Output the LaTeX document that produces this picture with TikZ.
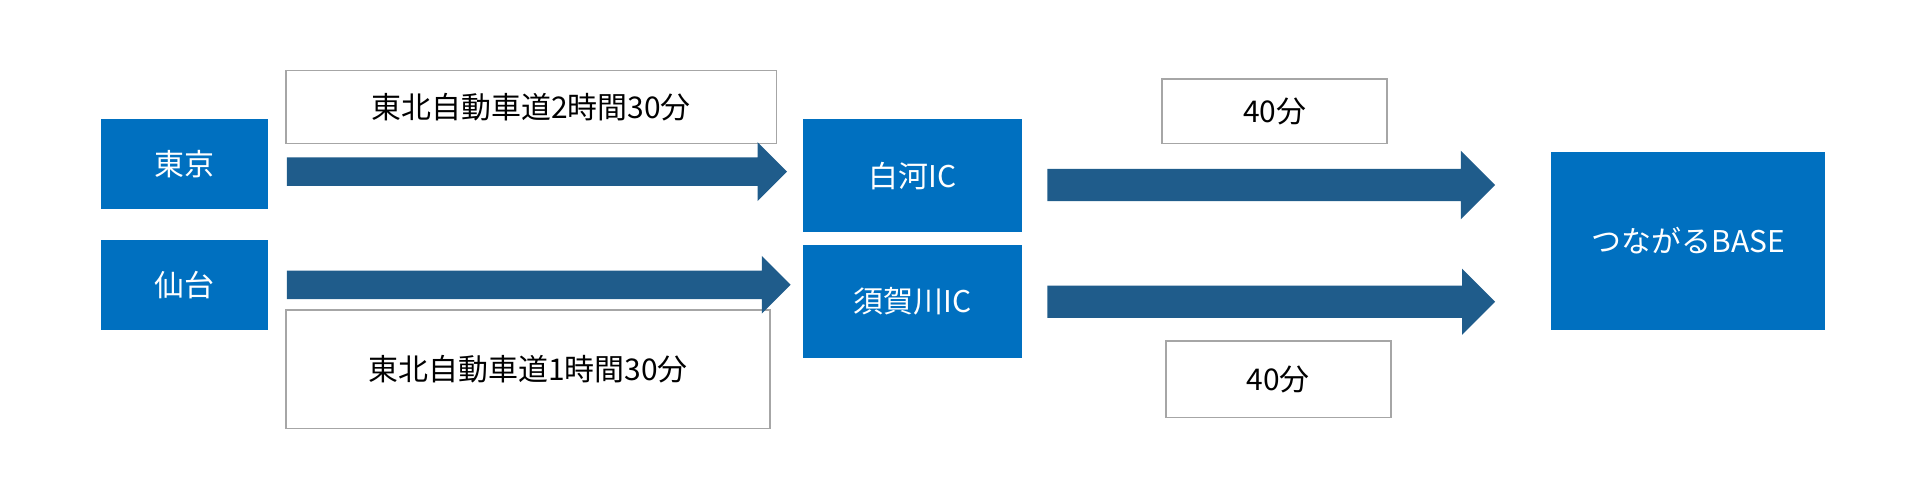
\documentclass[tikz,border=0pt]{standalone}
\usepackage{fontspec}
\setmainfont{Noto Sans CJK JP}
\usetikzlibrary{positioning,shapes.arrows}
\definecolor{boxblue}{HTML}{0070C0}
\definecolor{arrowblue}{HTML}{1F5C8B}
\definecolor{framegray}{HTML}{A6A6A6}
\tikzset{
  place/.style={fill=boxblue, text=white, inner sep=0pt, font=\fontsize{7}{8}\selectfont},
  timebox/.style={draw=framegray, fill=white, inner sep=0pt, font=\fontsize{7}{8}\selectfont},
  road arrow/.style={single arrow, fill=arrowblue, draw=none, inner xsep=0pt, anchor=west, single arrow tip angle=90},
}
\begin{document}
\begin{tikzpicture}
\useasboundingbox (0,0) rectangle (15.68,-3.94);
%the places
\node [place, minimum width=1.37cm, minimum height=0.74cm] (tokyo) at (1.515,-1.35) {東京};
\node [place, minimum width=1.37cm, minimum height=0.74cm] (sendai) at (1.515,-2.34) {仙台};
\node [place, minimum width=1.80cm, minimum height=0.93cm] (shirakawa) at (7.50,-1.445) {白河IC};
\node [place, minimum width=1.80cm, minimum height=0.93cm] (sukagawa) at (7.50,-2.475) {須賀川IC};
\node [place, minimum width=2.25cm, minimum height=1.46cm] (base) at (13.875,-1.98) {つながるBASE};
%the times
\node [timebox, minimum width=4.03cm, minimum height=0.60cm] (t1) at (4.365,-0.88) {東北自動車道2時間30分};
\node [timebox, minimum width=3.98cm, minimum height=0.97cm] (t2) at (4.34,-3.035) {東北自動車道1時間30分};
\node [timebox, minimum width=1.85cm, minimum height=0.53cm] (t3) at (10.475,-0.915) {40分};
\node [timebox, minimum width=1.85cm, minimum height=0.63cm] (t4) at (10.505,-3.115) {40分};
%the arrows
\node [road arrow, minimum height=4.11cm, inner ysep=0.11cm, single arrow head extend=0.125cm] (a1) at (2.35,-1.41) {};
\node [road arrow, minimum height=4.14cm, inner ysep=0.11cm, single arrow head extend=0.12cm] (a2) at (2.35,-2.34) {};
\node [road arrow, minimum height=3.68cm, inner ysep=0.125cm, single arrow head extend=0.15cm] (a3) at (8.60,-1.52) {};
\node [road arrow, minimum height=3.68cm, inner ysep=0.125cm, single arrow head extend=0.14cm] (a4) at (8.60,-2.48) {};
\end{tikzpicture}
\end{document}
